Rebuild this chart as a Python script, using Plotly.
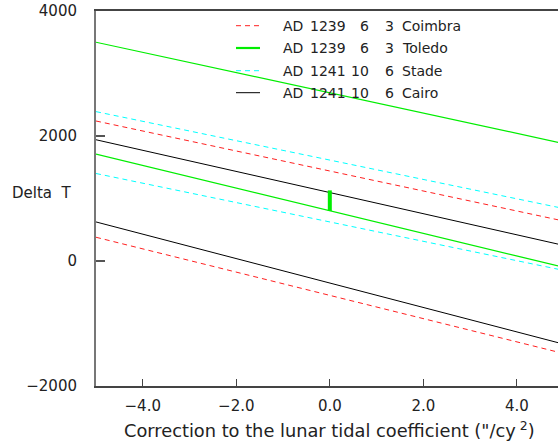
import plotly.graph_objects as go

# Data: correction to lunar tidal coefficient (x) vs Delta T bounds
x_ends = [-5.0, 5.0]

coimbra_upper = [2240, 640]
coimbra_lower = [380, -1480]
toledo_upper = [3500, 1880]
toledo_lower = [1710, -100]
stade_upper = [2390, 840]
stade_lower = [1400, -150]
cairo_upper = [1940, 250]
cairo_lower = [625, -1330]

bar_x = [0.0, 0.0]
bar_y = [800, 1130]

legend_labels = [
    ("AD", "1239", "6", "3", "Coimbra"),
    ("AD", "1239", "6", "3", "Toledo"),
    ("AD", "1241", "10", "6", "Stade"),
    ("AD", "1241", "10", "6", "Cairo"),
]

x_ticks = [-4.0, -2.0, 0.0, 2.0, 4.0]
y_ticks = [-2000, 0, 2000, 4000]

W, H = 558, 441
L, R, T, B = 96, 0, 11, 55
PW, PH = W - L - R, H - T - B

FONT = "DejaVu Sans"
TXT = "#222"

styles = [
    dict(color="#ff2020", width=1, dash="5px,4px"),
    dict(color="#00ee00", width=1.2, dash="solid"),
    dict(color="#00ffff", width=1, dash="5px,4px"),
    dict(color="#000000", width=1, dash="solid"),
]
legend_styles = [
    dict(color="#ff2020", width=1, dash="5px,4px"),
    dict(color="#00ee00", width=2.2, dash="solid"),
    dict(color="#00ffff", width=1, dash="5px,4px"),
    dict(color="#000000", width=1, dash="solid"),
]

fig = go.Figure()
pairs = [(coimbra_upper, coimbra_lower), (toledo_upper, toledo_lower),
         (stade_upper, stade_lower), (cairo_upper, cairo_lower)]
for (up, lo), st in zip(pairs, styles):
    for ys in (up, lo):
        fig.add_trace(go.Scatter(x=x_ends, y=ys, mode="lines", line=st,
                                 showlegend=False, hoverinfo="skip"))

fig.add_trace(go.Scatter(x=bar_x, y=bar_y, mode="lines",
                         line=dict(color="#00ee00", width=4),
                         showlegend=False, hoverinfo="skip"))

def px_to_paper_x(px):
    return (px - L) / PW

def px_to_paper_y(py):
    return (H - B - py) / PH

rows_py = [25.7, 48.0, 70.7, 92.7]
shapes = []
annotations = []
cols = [(281, "left"), (308, "left"), (371, "right"), (396, "right"), (400, "left")]
for (lab, st, py) in zip(legend_labels, legend_styles, rows_py):
    yp = px_to_paper_y(py)
    shapes.append(dict(type="line", xref="paper", yref="paper",
                       x0=px_to_paper_x(236), x1=px_to_paper_x(260),
                       y0=yp, y1=yp, line=st))
    for text, (cx, anc) in zip(lab, cols):
        annotations.append(dict(text=text, xref="paper", yref="paper",
                                x=px_to_paper_x(cx), y=yp, xanchor=anc,
                                yanchor="middle", showarrow=False,
                                font=dict(family=FONT, size=14, color=TXT)))

annotations.append(dict(text="Delta  T", xref="paper", yref="paper",
                        x=px_to_paper_x(10), y=px_to_paper_y(193),
                        xanchor="left", yanchor="middle", showarrow=False,
                        font=dict(family=FONT, size=15, color=TXT)))
annotations.append(dict(text='Correction to the lunar tidal coefficient (\"/cy<sup> 2</sup>)',
                        xref="x", yref="paper", x=0.0, y=px_to_paper_y(429),
                        xanchor="center", yanchor="middle", showarrow=False,
                        font=dict(family=FONT, size=17.8, color=TXT)))

fig.update_layout(
    width=W, height=H,
    margin=dict(l=L, r=R, t=T, b=B, pad=0),
    paper_bgcolor="white", plot_bgcolor="white",
    font=dict(family=FONT, size=14, color=TXT),
    shapes=shapes, annotations=annotations,
    xaxis=dict(range=[-5.0, 4.88], tickvals=x_ticks, tickformat=".1f",
               ticks="inside", ticklen=7, tickwidth=1.2, tickcolor="#444",
               showline=True, linecolor="#444", linewidth=1.5, mirror=True,
               showgrid=False, zeroline=False, ticklabelstandoff=5,
               tickfont=dict(family=FONT, size=15, color=TXT)),
    yaxis=dict(range=[-2000, 4000], tickvals=y_ticks,
               ticks="inside", ticklen=9, tickwidth=1.5, tickcolor="#555",
               showline=True, linecolor="#777", linewidth=2, mirror=False,
               showgrid=False, zeroline=False, ticklabelstandoff=14,
               tickfont=dict(family=FONT, size=15, color=TXT)),
)

fig.write_html("out.html")
